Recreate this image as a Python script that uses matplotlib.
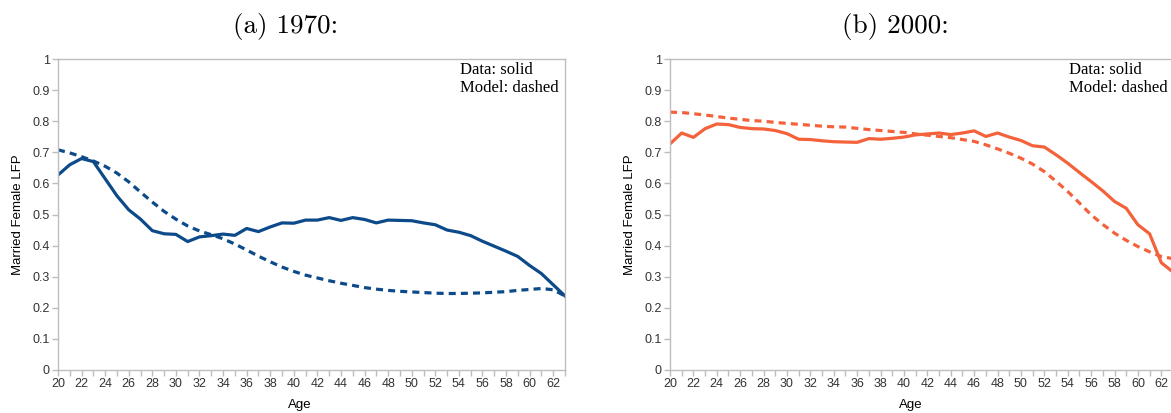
import numpy as np
import matplotlib
matplotlib.use("Agg")
import matplotlib.pyplot as plt

edades = list(range(20, 64))

datos_1970 = [0.627, 0.66, 0.68, 0.67, 0.615, 0.56, 0.515, 0.485, 0.448, 0.438,
              0.436, 0.413, 0.428, 0.432, 0.437, 0.433, 0.455, 0.445, 0.46, 0.473,
              0.472, 0.482, 0.482, 0.49, 0.481, 0.49, 0.484, 0.473, 0.482, 0.481,
              0.48, 0.473, 0.467, 0.45, 0.443, 0.432, 0.414, 0.398, 0.382, 0.365,
              0.336, 0.31, 0.274, 0.238]
modelo_1970 = [0.708, 0.698, 0.686, 0.672, 0.655, 0.633, 0.605, 0.572, 0.54, 0.51,
               0.485, 0.463, 0.447, 0.435, 0.422, 0.405, 0.386, 0.366, 0.348, 0.331,
               0.317, 0.305, 0.296, 0.287, 0.279, 0.272, 0.265, 0.26, 0.256, 0.253,
               0.251, 0.249, 0.247, 0.246, 0.246, 0.247, 0.248, 0.25, 0.252, 0.256,
               0.259, 0.262, 0.258, 0.238]

datos_2000 = [0.727, 0.762, 0.748, 0.776, 0.791, 0.789, 0.78, 0.776, 0.775, 0.77,
              0.76, 0.742, 0.741, 0.737, 0.734, 0.733, 0.732, 0.744, 0.742, 0.745,
              0.749, 0.756, 0.759, 0.762, 0.757, 0.762, 0.769, 0.751, 0.762, 0.749,
              0.738, 0.721, 0.717, 0.692, 0.665, 0.635, 0.606, 0.576, 0.542, 0.52,
              0.467, 0.438, 0.345, 0.315]
modelo_2000 = [0.829, 0.828, 0.824, 0.82, 0.815, 0.81, 0.806, 0.802, 0.8, 0.796,
               0.793, 0.79, 0.787, 0.784, 0.782, 0.781, 0.777, 0.773, 0.77, 0.767,
               0.764, 0.759, 0.755, 0.751, 0.747, 0.741, 0.735, 0.724, 0.711, 0.697,
               0.681, 0.662, 0.638, 0.607, 0.574, 0.537, 0.499, 0.468, 0.44, 0.417,
               0.397, 0.38, 0.365, 0.358]

azul = '#0d4a8a'
naranja = '#f4623c'
gris = '#bdbdbd'

fig = plt.figure(figsize=(11.71, 4.13), dpi=100)
W, H = 1171, 413

def graficar(pos, datos, modelo, color, titulo, titulo_x, age_x):
    x0, x1, ytop, ybot = pos
    ax = fig.add_axes([x0 / W, 1 - ybot / H, (x1 - x0) / W, (ybot - ytop) / H])
    ax.plot(edades, datos, color=color, lw=2.3, solid_joinstyle='round')
    ax.plot(edades, modelo, color=color, lw=2.3, dashes=(2.2, 1.6))
    ax.set_xlim(20, 63)
    ax.set_ylim(0, 1)
    ax.set_xticks(range(20, 63, 2))
    ax.set_xticks(range(20, 64), minor=True)
    ax.set_yticks(np.arange(0, 1.01, 0.1))
    ax.set_yticklabels(['0'] + ['%.1f' % v for v in np.arange(0.1, 0.95, 0.1)] + ['1'])
    for s in ax.spines.values():
        s.set_color(gris)
        s.set_linewidth(1.0)
    ax.tick_params(which='both', colors=gris, labelcolor='#333333', length=4,
                   width=1, labelsize=9, pad=2)
    for lab in ax.get_xticklabels() + ax.get_yticklabels():
        lab.set_family('Liberation Sans')
    ax.set_ylabel('Married Female LFP', family='Liberation Sans', fontsize=9.5, labelpad=6)
    # el titulo del eje x esta corrido un poco a la izquierda
    fig.text(age_x / W, 1 - 405 / H, 'Age', family='Liberation Sans', fontsize=9.5,
             ha='center', va='center')
    ax.text(0.793, 0.99, 'Data: solid\nModel: dashed', transform=ax.transAxes,
            family='Liberation Serif', fontsize=12, va='top', ha='left', linespacing=1.12)
    fig.text(titulo_x / W, 1 - 27 / H, titulo, family='cmr10', fontsize=19.5,
             ha='center', va='center')
    return ax

graficar((58, 565, 59, 370), datos_1970, modelo_1970, azul, '(a) 1970:', 286, 300)
graficar((670, 1173, 59, 370), datos_2000, modelo_2000, naranja, '(b) 2000:', 895, 911)

fig.savefig('out.png', dpi=100)
